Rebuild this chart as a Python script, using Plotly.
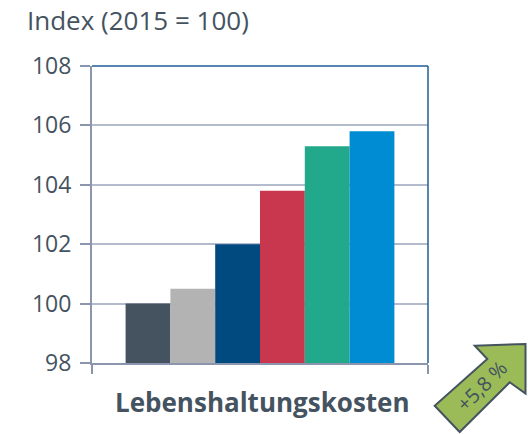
import plotly.graph_objects as go

categories = ["Lebenshaltungskosten"]
years = ["2015", "2016", "2017", "2018", "2019", "2020"]
values = [100.0, 100.5, 102.0, 103.8, 105.3, 105.8]
colors = ["#44535f", "#b3b3b3", "#004a80", "#c9374f", "#22a98b", "#008cd2"]
y_ticks = [98, 100, 102, 104, 106, 108]
axis_title = "Index (2015 = 100)"
change_label = "+5,8 %"

W, H = 528, 434
L, R, T, B = 92, 100, 66, 71
PW, PH = W - L - R, H - T - B

def px(x, y):
    return (x - L) / PW, (H - B - y) / PH

fig = go.Figure()
for yr, v, c in zip(years, values, colors):
    fig.add_trace(go.Bar(x=categories, y=[v], name=yr, marker=dict(color=c, line=dict(width=0))))

fig.update_layout(
    width=W, height=H,
    margin=dict(l=L, r=R, t=T, b=B),
    paper_bgcolor="white", plot_bgcolor="white",
    barmode="group", bargap=0.2, bargroupgap=0,
    showlegend=False,
    font=dict(family="Open Sans", color="#44535f"),
)
fig.update_yaxes(
    range=[98, 108], tickvals=y_ticks, ticktext=[str(t) for t in y_ticks],
    showline=True, linecolor="#8b95ae", linewidth=2,
    ticks="outside", ticklen=10, tickcolor="#8b95ae", tickwidth=2,
    showgrid=True, gridcolor="#b4bbcd", gridwidth=2,
    tickfont=dict(size=23, color="#44535f"), ticklabelstandoff=4,
    zeroline=False,
)
fig.update_xaxes(
    showline=True, linecolor="#8b95ae", linewidth=2,
    ticks="outside", tickson="boundaries", ticklen=9, tickcolor="#8b95ae", tickwidth=2,
    showticklabels=False, showgrid=False,
)

# top and right border
fig.add_shape(type="line", xref="paper", yref="paper", x0=0, x1=1, y0=1, y1=1,
              line=dict(color="#1f5c99", width=1.5))
fig.add_shape(type="line", xref="paper", yref="paper", x0=1, x1=1, y0=0, y1=1,
              line=dict(color="#1f5c99", width=1.5))

# arrow
pts = [(474.7, 345.7), (525.5, 344), (525.5, 393.5), (509.7, 382.3),
       (459.7, 432), (434.7, 405.7), (487.3, 359)]
pp = [px(x, y) for x, y in pts]
path = "M " + " L ".join(f"{a:.4f},{b:.4f}" for a, b in pp) + " Z"
fig.add_shape(type="path", xref="paper", yref="paper", path=path,
              fillcolor="#9bbb59", line=dict(color="#44535f", width=2), layer="above")

ax, ay = px(481, 386)
fig.add_annotation(x=ax, y=ay, xref="paper", yref="paper", text=change_label,
                   textangle=-45, showarrow=False, xanchor="center", yanchor="middle",
                   font=dict(size=20, color="#44535f"))

tx, ty = px(25, 20)
fig.add_annotation(x=tx, y=ty, xref="paper", yref="paper", text=axis_title,
                   xanchor="left", yanchor="middle", showarrow=False,
                   font=dict(size=26, color="#44535f"))

lx, ly = px(262, 402)
fig.add_annotation(x=lx, y=ly, xref="paper", yref="paper", text="<b>" + categories[0] + "</b>",
                   xanchor="center", yanchor="middle", showarrow=False,
                   font=dict(size=26, color="#44535f"))

fig.write_html("out.html", config={"displayModeBar": False},
               post_script="document.body.style.margin='0';document.body.style.overflow='hidden';")
